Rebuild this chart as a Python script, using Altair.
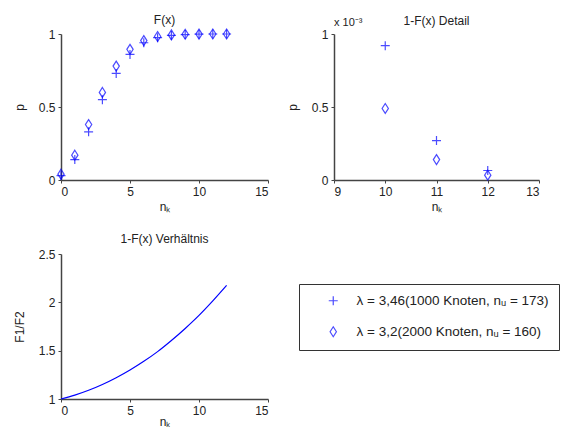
import altair as alt
import pandas as pd

# ---- data ----
n_k = list(range(13))
F1 = [0.03, 0.14, 0.33, 0.55, 0.73, 0.86, 0.94, 0.975, 0.99, 0.996, 0.999, 1.0, 1.0]
F2 = [0.04, 0.17, 0.38, 0.60, 0.78, 0.895, 0.955, 0.983, 0.994, 0.998, 0.9995, 1.0, 1.0]
detail_n = [10, 11, 12]
D1 = [0.92, 0.27, 0.065]   # x 10^-3
D2 = [0.49, 0.14, 0.033]   # x 10^-3
ratio = [1.0, 1.04, 1.09, 1.15, 1.22, 1.30, 1.39, 1.49, 1.605, 1.73, 1.865, 2.015, 2.175]
labels = ["λ = 3,46(1000 Knoten, nᵤ = 173)", "λ = 3,2(2000 Knoten, nᵤ = 160)"]
titles = ["F(x)", "1-F(x) Detail", "1-F(x) Verhältnis"]
ticksA = [0, 5, 10, 15]
ticksB = [9, 10, 11, 12, 13]
ticksP = [0, 0.5, 1]
ticksR = [1, 1.5, 2, 2.5]

CROSS = "M-1,0L1,0M0,-1L0,1"
DIAMOND = "M0,-1.1L0.7,0L0,1.1L-0.7,0Z"
BLUE = "#0000ff"
FONT = "Liberation Sans"

dfA = pd.DataFrame({"n": n_k * 2, "p": F1 + F2,
                    "s": [labels[0]] * len(n_k) + [labels[1]] * len(n_k)})
dfB = pd.DataFrame({"n": detail_n, "d1": D1, "d2": D2})
dfC = pd.DataFrame({"n": n_k, "r": ratio})

def xax(vals, tp=4):
    return alt.Axis(values=vals, title="nₖ", titlePadding=tp)

def yax(vals, title):
    return alt.Axis(values=vals, format="~g", title=title, titlePadding=12)

# ---- panel A ----
A = alt.Chart(dfA, title=alt.Title(titles[0], offset=0)).mark_point(
    filled=False, strokeWidth=1.2, size=81, color=BLUE
).encode(
    x=alt.X("n:Q", scale=alt.Scale(domain=[0, 15], nice=False), axis=xax(ticksA)),
    y=alt.Y("p:Q", scale=alt.Scale(domain=[0, 1], nice=False), axis=yax(ticksP, "p")),
    shape=alt.Shape("s:N", scale=alt.Scale(domain=labels, range=[CROSS, DIAMOND]),
                    legend=alt.Legend(title=None, orient="none", legendX=238, legendY=250,
                                      strokeColor="#333", fillColor="white", padding=10,
                                      symbolOffset=17.5, labelOffset=16.5, rowPadding=16,
                                      labelFontSize=13.5, labelFont=FONT, labelColor="#222",
                                      labelLimit=400, symbolSize=81, symbolStrokeWidth=1.2,
                                      symbolStrokeColor=BLUE, symbolFillColor="transparent")),
).properties(width=207, height=146)

# ---- panel B ----
yB = dict(scale=alt.Scale(domain=[0, 1], nice=False), axis=yax(ticksP, "p"))
xB = alt.X("n:Q", scale=alt.Scale(domain=[9, 13], nice=False), axis=xax(ticksB))
B1 = alt.Chart(dfB).mark_point(shape=CROSS, filled=False, strokeWidth=1.2, size=81, color=BLUE).encode(
    x=xB, y=alt.Y("d1:Q", **yB))
B2 = alt.Chart(dfB).mark_point(shape=DIAMOND, filled=False, strokeWidth=1.2, size=81, color=BLUE).encode(
    x=xB, y=alt.Y("d2:Q", **yB))
Bt = alt.Chart(pd.DataFrame({"t": ["x 10⁻³"]})).mark_text(
    align="left", baseline="alphabetic", fontSize=11, font=FONT, color="#222"
).encode(text="t:N", x=alt.value(0), y=alt.value(-8))
B = alt.layer(B1, B2, Bt, title=alt.Title(titles[1], offset=-10.5)).properties(width=205, height=146)

# ---- panel C ----
C = alt.Chart(dfC, title=alt.Title(titles[2], offset=2)).mark_line(
    color=BLUE, strokeWidth=1.2, interpolate="monotone"
).encode(
    x=alt.X("n:Q", scale=alt.Scale(domain=[0, 15], nice=False), axis=xax(ticksA, 0)),
    y=alt.Y("r:Q", scale=alt.Scale(domain=[1, 2.5], nice=False), axis=yax(ticksR, "F1/F2")),
).properties(width=207, height=145)

chart = alt.concat(A, B, C, columns=2, spacing=alt.RowColnumber(row=74, column=66),
                   bounds="flush").properties(
    padding={"left": 5, "top": 5, "right": 0, "bottom": 0}
).configure_view(stroke=None).configure_axis(
    grid=False, domainColor="#444", domainWidth=1.5, tickColor="#444", tickSize=3,
    labelFont=FONT, labelFontSize=12, labelColor="#222", labelPadding=3,
    titleFont=FONT, titleFontSize=12, titleFontWeight="normal", titleColor="#222",
).configure_title(font=FONT, fontSize=12, fontWeight="normal", color="#222")

chart.save("out.html", embed_options={"renderer": "svg", "actions": False})
